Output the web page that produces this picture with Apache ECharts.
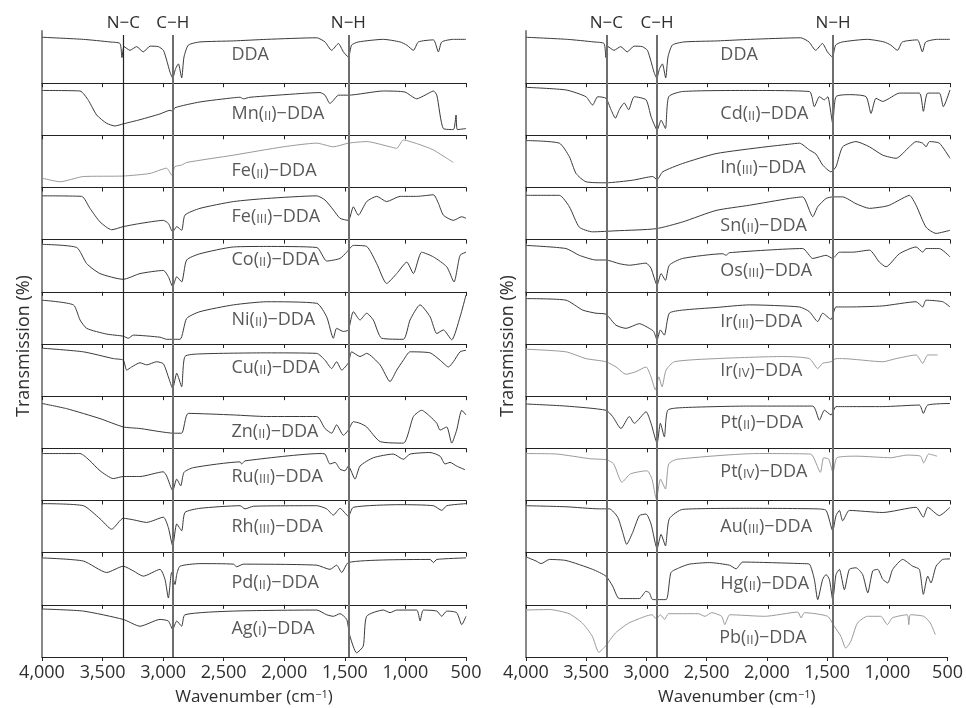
<!DOCTYPE html>
<html>
<head>
<meta charset="utf-8">
<title>IR spectra of metal-DDA complexes</title>
<script src="https://cdn.jsdelivr.net/npm/echarts@6/dist/echarts.min.js"></script>
<style>
  html, body { margin: 0; padding: 0; background: #fff; }
  #chart { width: 966px; height: 708px; }
</style>
</head>
<body>
<div id="chart"></div>
<script>
// each spectrum: [wavenumber (cm-1), transmission inside its own strip (0 = strip bottom, 100 = strip top)]
const dda = [[4000,88],[3659,84],[3439,79],[3356,76],[3340,49],[3323,70],[3274,63],[3219,70],[3164,60],[3108,71],[3040,70],[2998,63],[2971,44],[2943,21],[2921,10],[2897,28],[2874,37],[2847,10],[2828,50],[2792,73],[2696,79],[2420,81],[2145,84],[1732,87],[1664,79],[1609,63],[1553,76],[1512,60],[1471,50],[1444,73],[1389,79],[1182,84],[1044,79],[989,73],[934,63],[893,79],[769,83],[728,60],[700,79],[604,84],[500,84]];
const mnII = [[4000,86],[3686,85],[3617,67],[3549,39],[3466,23],[3398,18],[3329,22],[3191,30],[3026,41],[2943,48],[2921,46],[2902,53],[2696,64],[2420,72],[2365,73],[2338,70],[2283,73],[1870,80],[1705,82],[1664,77],[1623,61],[1595,67],[1553,77],[1471,77],[1182,85],[1005,83],[907,70],[838,77],[769,85],[741,77],[687,13],[604,11],[582,39],[571,11],[500,13]];
const feII = [[4000,18],[3851,11],[3659,21],[3329,22],[3108,27],[2971,37],[2930,24],[2902,40],[2847,43],[2806,48],[2420,62],[2008,78],[1732,85],[1595,78],[1471,85],[1320,88],[1127,78],[1072,75],[1017,91],[879,82],[769,72],[659,56],[604,48]];
const feIII = [[4000,84],[3673,83],[3604,60],[3521,34],[3425,19],[3329,25],[3191,31],[2998,37],[2957,31],[2921,15],[2888,25],[2847,18],[2820,47],[2696,60],[2420,73],[2145,79],[1732,84],[1664,76],[1595,57],[1540,41],[1471,37],[1430,63],[1389,47],[1320,73],[1237,83],[1155,73],[1044,83],[907,83],[769,86],[728,70],[687,47],[604,37],[535,44],[500,41]];
const coII = [[4000,91],[3714,85],[3631,54],[3521,35],[3329,24],[3191,35],[2998,41],[2957,29],[2921,10],[2888,29],[2847,19],[2806,61],[2696,73],[2420,86],[2145,87],[1732,85],[1650,59],[1540,64],[1485,76],[1430,89],[1320,87],[1237,54],[1155,16],[1072,35],[989,57],[934,35],[866,76],[769,67],[659,48],[599,19],[549,70],[500,76]];
const niII = [[4000,84],[3741,75],[3686,46],[3631,30],[3466,19],[3329,15],[3288,11],[3246,17],[3026,13],[2971,9],[2861,9],[2806,49],[2696,62],[2420,75],[2145,81],[1732,78],[1650,52],[1595,11],[1568,30],[1512,24],[1471,27],[1430,62],[1375,46],[1320,59],[1265,46],[1196,11],[1017,9],[962,46],[879,75],[796,52],[741,20],[687,27],[618,8],[549,52],[500,94]];
const cuII = [[4000,92],[3659,85],[3411,72],[3329,69],[3301,50],[3260,56],[3191,64],[3136,60],[3054,66],[2998,62],[2957,37],[2921,15],[2888,44],[2847,18],[2820,76],[2696,81],[2145,83],[1732,82],[1664,69],[1609,53],[1568,66],[1526,50],[1471,64],[1444,85],[1375,76],[1320,82],[1209,60],[1127,28],[1072,50],[1017,69],[962,85],[796,83],[714,69],[645,56],[604,66],[549,85],[500,88]];
const znII = [[4000,86],[3796,76],[3521,57],[3329,41],[3191,38],[3026,32],[2916,29],[2847,29],[2792,67],[2420,64],[2145,61],[1732,61],[1664,38],[1609,29],[1568,45],[1512,25],[1471,35],[1430,51],[1375,48],[1320,41],[1209,13],[1017,10],[934,61],[866,73],[796,61],[741,48],[714,35],[659,41],[618,10],[577,35],[535,73],[500,64]];
const ruIII = [[4000,90],[3686,90],[3604,76],[3521,57],[3411,42],[3329,46],[3191,46],[2999,55],[2971,47],[2921,19],[2888,41],[2855,28],[2828,54],[2751,63],[2365,74],[2352,70],[2324,76],[1705,90],[1664,89],[1623,70],[1581,73],[1540,60],[1499,57],[1471,66],[1416,41],[1375,66],[1265,82],[1100,89],[1017,79],[962,89],[797,92],[714,85],[673,70],[632,73],[577,66],[508,59]];
const rhIII = [[4000,94],[3659,90],[3521,65],[3425,45],[3329,66],[3246,63],[3136,58],[2998,68],[2957,48],[2921,13],[2888,55],[2847,42],[2820,77],[2696,85],[2365,90],[2324,84],[2255,89],[1732,90],[1650,84],[1595,72],[1540,85],[1471,70],[1430,87],[1044,92],[769,90],[700,81],[659,90],[500,94]];
const pdII = [[4000,90],[3659,84],[3466,62],[3329,74],[3246,65],[3164,55],[3026,68],[2985,49],[2957,13],[2930,62],[2902,39],[2888,58],[2861,74],[2696,79],[2420,78],[2393,73],[2338,78],[1732,76],[1623,68],[1568,76],[1526,62],[1471,81],[1182,86],[796,87],[769,81],[741,87],[500,90]];
const agI = [[4000,92],[3659,88],[3329,72],[3191,59],[3026,72],[2957,69],[2921,53],[2888,69],[2847,59],[2820,81],[2420,88],[1732,90],[1650,81],[1595,78],[1540,83],[1485,72],[1458,40],[1403,8],[1348,21],[1320,78],[1182,90],[1127,85],[1072,90],[907,90],[879,69],[852,90],[741,88],[700,78],[659,88],[577,85],[535,62],[500,78]];

const cdII = [[4000,92],[3670,87],[3505,74],[3450,58],[3408,74],[3340,71],[3298,49],[3262,33],[3230,49],[3189,62],[3153,49],[3106,74],[3009,68],[2968,36],[2940,20],[2918,10],[2885,29],[2849,13],[2822,74],[2707,84],[2156,86],[1661,84],[1620,55],[1578,74],[1537,68],[1509,74],[1468,23],[1441,74],[1331,78],[1193,74],[1152,42],[1111,71],[1055,65],[1000,71],[918,81],[753,81],[720,46],[684,81],[588,81],[555,55],[500,87]];
const inIII = [[4000,90],[3725,85],[3642,59],[3587,27],[3505,11],[3340,9],[3119,14],[2954,21],[2918,15],[2872,30],[2707,46],[2431,65],[2019,78],[1826,83],[1743,85],[1661,72],[1606,64],[1551,43],[1482,30],[1441,40],[1386,78],[1276,88],[1165,78],[1055,62],[945,56],[835,78],[780,88],[725,85],[698,78],[670,88],[588,85],[500,56]];
const snII = [[4000,85],[3725,85],[3642,63],[3560,24],[3450,15],[3257,17],[2927,21],[2707,34],[2431,56],[2156,66],[1826,79],[1716,82],[1633,44],[1592,63],[1523,79],[1468,82],[1386,82],[1276,69],[1165,60],[1055,63],[1000,66],[918,76],[835,85],[780,66],[698,24],[615,12],[500,18]];
const osIII = [[4000,89],[3670,83],[3560,70],[3422,61],[3340,61],[3230,54],[3147,51],[3009,55],[2968,45],[2918,13],[2885,35],[2849,22],[2817,51],[2707,64],[2376,73],[2349,70],[2321,75],[1716,83],[1633,64],[1578,67],[1523,70],[1468,64],[1413,76],[1303,76],[1165,80],[1083,57],[1028,48],[918,73],[780,86],[725,76],[698,83],[588,83],[500,67]];
const irIII = [[4000,87],[3670,84],[3532,65],[3422,59],[3340,57],[3257,36],[3174,30],[3064,39],[2982,30],[2946,24],[2918,8],[2891,27],[2858,17],[2817,59],[2707,65],[2431,70],[2156,75],[1743,71],[1661,62],[1592,43],[1551,59],[1482,47],[1441,71],[1331,71],[1055,73],[780,81],[725,71],[698,84],[560,81],[500,71]];
const irIV = [[4000,90],[3670,85],[3505,72],[3340,66],[3257,56],[3174,42],[3092,47],[3009,56],[2968,37],[2932,12],[2904,37],[2877,18],[2844,50],[2775,66],[2431,72],[1881,76],[1661,72],[1592,53],[1551,63],[1482,66],[1441,72],[1386,72],[1055,66],[945,72],[780,79],[725,63],[684,79],[602,79]];
const ptII = [[4000,85],[3670,81],[3340,73],[3285,61],[3216,38],[3147,61],[3106,48],[3009,70],[2968,48],[2918,10],[2891,48],[2858,22],[2830,73],[2707,78],[2156,81],[1633,81],[1578,54],[1537,73],[1482,64],[1441,80],[1331,80],[1055,80],[753,83],[720,67],[684,83],[500,86]];
const ptIV = [[4000,90],[3744,89],[3468,80],[3331,78],[3276,70],[3208,35],[3138,51],[3001,57],[2960,41],[2924,3],[2890,41],[2849,22],[2822,70],[2753,79],[2093,90],[1652,89],[1570,54],[1543,82],[1501,79],[1466,54],[1433,82],[1268,85],[992,82],[855,87],[744,85],[717,72],[676,89],[607,85]];
const auIII = [[4000,90],[3670,88],[3395,84],[3312,84],[3243,68],[3202,39],[3169,16],[3119,39],[3064,71],[3009,74],[2968,55],[2918,8],[2885,35],[2849,13],[2817,65],[2707,83],[2156,85],[1606,84],[1523,81],[1468,42],[1441,71],[1413,81],[1386,61],[1331,81],[1055,77],[780,87],[720,68],[684,87],[588,71],[500,87]];
const hgII = [[4000,92],[3917,84],[3875,79],[3807,87],[3670,85],[3450,68],[3340,55],[3285,36],[3230,12],[3064,12],[3009,26],[2982,23],[2954,10],[2844,10],[2803,62],[2735,71],[2652,78],[2487,81],[2321,76],[2266,69],[2211,82],[1716,79],[1661,78],[1620,49],[1592,10],[1551,49],[1523,58],[1496,49],[1468,10],[1441,58],[1413,68],[1372,29],[1331,68],[1276,71],[1221,58],[1179,23],[1138,65],[1097,68],[1055,49],[1014,42],[973,68],[890,87],[808,74],[753,68],[720,20],[684,55],[657,42],[615,74],[560,87],[500,88]];
const pbII = [[4000,90],[3807,91],[3642,83],[3532,65],[3450,40],[3395,9],[3340,21],[3257,46],[3147,65],[3009,78],[2954,81],[2918,73],[2885,81],[2849,72],[2817,83],[2569,83],[2514,78],[2459,85],[2376,78],[2349,62],[2307,81],[2019,78],[1743,86],[1716,75],[1688,85],[1496,78],[1441,59],[1386,40],[1345,17],[1303,30],[1248,65],[1165,78],[1055,78],[1000,62],[959,75],[835,81],[822,62],[808,81],[698,78],[643,65],[602,43]];

const leftSpectra = [dda, mnII, feII, feIII, coII, niII, cuII, znII, ruIII, rhIII, pdII, agI];
const leftMetals = ['', 'Mn', 'Fe', 'Fe', 'Co', 'Ni', 'Cu', 'Zn', 'Ru', 'Rh', 'Pd', 'Ag'];
const leftStates = ['', 'II', 'II', 'III', 'II', 'II', 'II', 'II', 'III', 'III', 'II', 'I'];
const leftLabelLevels = [54, 42, 31, 43, 61, 46, 54, 31, 45, 50, 42, 54];

const rightSpectra = [dda, cdII, inIII, snII, osIII, irIII, irIV, ptII, ptIV, auIII, hgII, pbII];
const rightMetals = ['', 'Cd', 'In', 'Sn', 'Os', 'Ir', 'Ir', 'Pt', 'Pt', 'Au', 'Hg', 'Pb'];
const rightStates = ['', 'II', 'III', 'II', 'III', 'III', 'IV', 'II', 'IV', 'III', 'II', 'II'];
const rightLabelLevels = [54, 42, 37, 27, 41, 43, 49, 49, 55, 49, 40, 36];

const bondNames = ['N−C', 'C−H', 'N−H'];
const leftBonds = [3329, 2921, 1471];
const rightBonds = [3337, 2919, 1466];

// traces printed in a paler grey in the figure
const paleTraces = ['Fe(II)', 'Ir(IV)', 'Pt(IV)', 'Pb(II)'];

const FONT = 'Open Sans';
const TEXT = '#2e2e2e';
const ROWS = 12;
const TOP = 31;
const BOTTOM = 657;
const ROW_H = (BOTTOM - TOP) / ROWS;
const PLOT_W = 424;

const panels = [
    { left: 42, spectra: leftSpectra, metals: leftMetals, states: leftStates, levels: leftLabelLevels, bonds: leftBonds, labelAt: 2440 },
    { left: 526, spectra: rightSpectra, metals: rightMetals, states: rightStates, levels: rightLabelLevels, bonds: rightBonds, labelAt: 2400 }
];

const grid = [], xAxis = [], yAxis = [], series = [];

panels.forEach(function (p, pi) {
    for (let r = 0; r < ROWS; r++) {
        const gi = grid.length;
        const last = r === ROWS - 1;
        grid.push({ left: p.left, top: TOP + r * ROW_H, width: PLOT_W, height: ROW_H });
        xAxis.push({
            gridIndex: gi, type: 'value', min: 500, max: 4000, interval: 500, inverse: true,
            axisLine: { show: true, lineStyle: { color: '#222', width: 1.2 } },
            axisTick: { show: true, length: 4, lineStyle: { color: '#222' } },
            axisLabel: {
                show: last, margin: 7, fontSize: 18, color: TEXT, fontFamily: FONT,
                formatter: function (v) { return v.toLocaleString('en-US'); }
            },
            splitLine: { show: false },
            name: last ? 'Wavenumber (cm{sup|−1})' : '',
            nameLocation: 'middle', nameGap: 32,
            nameTextStyle: {
                fontSize: 17, color: TEXT, fontFamily: FONT,
                rich: { sup: { fontSize: 11, color: TEXT, fontFamily: FONT, verticalAlign: 'top' } }
            }
        });
        yAxis.push({
            gridIndex: gi, type: 'value', min: 0, max: 100,
            axisLine: { show: true, lineStyle: { color: '#888', width: 2 } },
            axisTick: { show: false }, axisLabel: { show: false }, splitLine: { show: false }
        });

        const metal = p.metals[r], state = p.states[r];
        const plain = metal ? metal + '(' + state + ')' : 'DDA';
        const text = metal ? metal + '({sc|' + state + '})−DDA' : 'DDA';
        series.push({
            type: 'line', xAxisIndex: gi, yAxisIndex: gi, data: p.spectra[r],
            showSymbol: false, silent: true, smooth: 0.2,
            lineStyle: { width: 1, color: paleTraces.indexOf(plain) >= 0 ? '#9a9a9a' : '#3a3a3a' }
        });
        series.push({
            type: 'scatter', xAxisIndex: gi, yAxisIndex: gi, silent: true,
            data: [[p.labelAt, p.levels[r]]],
            symbolSize: 1, itemStyle: { color: 'rgba(0,0,0,0)' },
            label: {
                show: true, position: 'right', distance: 0,
                formatter: text, fontSize: 18, color: TEXT, fontFamily: FONT,
                rich: { sc: { fontSize: 13, color: TEXT, fontFamily: FONT, verticalAlign: 'bottom' } }
            }
        });
    }

    // full-height overlay carrying the bond marker lines and the y-axis title
    const oi = grid.length;
    grid.push({ left: p.left, top: TOP + 4, width: PLOT_W, height: BOTTOM - TOP - 4 });
    xAxis.push({ gridIndex: oi, type: 'value', min: 500, max: 4000, inverse: true, show: false });
    yAxis.push({
        gridIndex: oi, type: 'value', min: 0, max: 100,
        axisLine: { show: false }, axisTick: { show: false }, axisLabel: { show: false }, splitLine: { show: false },
        name: 'Transmission (%)', nameLocation: 'middle', nameGap: 9,
        nameTextStyle: { fontSize: 18, color: TEXT, fontFamily: FONT }
    });
    series.push({
        type: 'line', xAxisIndex: oi, yAxisIndex: oi, data: [],
        markLine: {
            symbol: 'none', silent: true, animation: false,
            label: { show: true, position: 'end', distance: 3, fontSize: 17, color: TEXT, fontFamily: FONT },
            data: p.bonds.map(function (w, i) {
                const thin = pi === 0 && i === 0;
                return {
                    xAxis: w,
                    label: { formatter: bondNames[i] },
                    lineStyle: { type: 'solid', color: thin ? '#222' : '#6e6e6e', width: thin ? 1.2 : 2 }
                };
            })
        }
    });
});

const chart = echarts.init(document.getElementById('chart'));
chart.setOption({
    animation: false,
    backgroundColor: '#fff',
    textStyle: { fontFamily: FONT },
    grid: grid,
    xAxis: xAxis,
    yAxis: yAxis,
    series: series
});
</script>
</body>
</html>
